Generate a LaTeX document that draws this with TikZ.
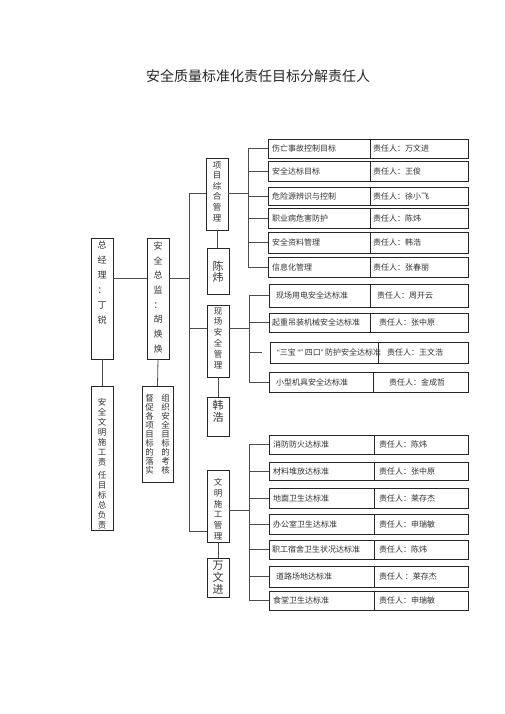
\documentclass[tikz,border=0pt]{standalone}
\usepackage{fontspec}
\setmainfont{Noto Sans CJK SC}
\newfontfamily\latinq{Liberation Sans}
\tikzset{
 box/.style={draw=black!85, line width=0.8pt, inner sep=0pt, outer sep=0pt},
 cell/.style={draw=black!85, line width=0.7pt, inner sep=0pt, outer sep=0pt},
 conn/.style={draw=black!70, line width=0.8pt},
 vtxt/.style={inner sep=0pt, align=center, text=black!80},
 itxt/.style={inner sep=0pt, anchor=west, text=black!80, font=\fontsize{8}{9}\selectfont},
}
% #1 name, #2 yc, #3 h, #4 xl, #5 xd, #6 txl, #7 textl, #8 txr, #9 textr
\newcommand{\itm}[9]{%
 \node[cell, minimum width={(#5-#4)*1pt}, minimum height=#3pt] (#1) at ({(#4+#5)/2},#2) {};
 \node[cell, minimum width={(468-#5)*1pt}, minimum height=#3pt] (#1r) at ({(#5+468)/2},#2) {};
 \node[itxt] (#1t) at (#6,#2) {#7};
 \node[itxt] (#1s) at (#8,#2) {#9};
}
\begin{document}
\begin{tikzpicture}[x=1pt,y=-1pt]
\fill[white] (0,0) rectangle (505,714);
\useasboundingbox (0,0) rectangle (505,714);

\node[inner sep=0pt, text=black!85, font=\fontsize{14}{16}\selectfont] (title) at (258,76) {安全质量标准化责任目标分解责任人};

% left column boxes
\node[box, minimum width=22pt, minimum height=121pt] (zjl) at (102,298.5) {};
\node[vtxt, font=\fontsize{9}{15}\selectfont] (zjlt) at (102,283) {总\\经\\理\\：\\丁\\锐};
\node[box, minimum width=22pt, minimum height=121pt] (zj) at (158,298.5) {};
\node[vtxt, font=\fontsize{9}{14.7}\selectfont] (zjt) at (158,297.5) {安\\全\\总\\监\\：\\胡\\焕\\焕};
\node[box, minimum width=22pt, minimum height=144pt] (fz) at (102,458) {};
\node[vtxt, font=\fontsize{8.5}{10}\selectfont] (fzt) at (102,463.5) {安\\全\\文\\明\\施\\工\\责\\[3pt]任\\目\\标\\总\\负\\责};
\node[box, minimum width=31pt, minimum height=96pt] (dc) at (157.5,434) {};
\node[vtxt, font=\fontsize{8.5}{9}\selectfont] (dct1) at (149.5,434.5) {督\\促\\各\\项\\目\\标\\的\\落\\实};
\node[vtxt, font=\fontsize{8.5}{9}\selectfont] (dct2) at (165.5,434.5) {组\\织\\安\\全\\目\\标\\的\\考\\核};

% group boxes
\node[box, minimum width=22pt, minimum height=72pt] (xm) at (217,194) {};
\node[vtxt, font=\fontsize{8.5}{10.6}\selectfont] (xmt) at (217,191.5) {项\\目\\综\\合\\管\\理};
\node[box, minimum width=22pt, minimum height=46pt] (cw) at (218,271) {};
\node[vtxt, font=\fontsize{11}{11.5}\selectfont] (cwt) at (218,272) {陈\\炜};
\node[box, minimum width=22pt, minimum height=72pt] (xc) at (218,341) {};
\node[vtxt, font=\fontsize{8.5}{10.8}\selectfont] (xct) at (218,338) {现\\场\\安\\全\\管\\理};
\node[box, minimum width=22pt, minimum height=39pt] (hh) at (218,416.5) {};
\node[vtxt, font=\fontsize{11}{12}\selectfont] (hht) at (218,411.5) {韩\\浩};
\node[box, minimum width=22pt, minimum height=72pt] (wm) at (218,506) {};
\node[vtxt, font=\fontsize{8.5}{10.8}\selectfont] (wmt) at (218,509) {文\\明\\施\\工\\管\\理};
\node[box, minimum width=22pt, minimum height=39pt] (wwj) at (218,577.5) {};
\node[vtxt, font=\fontsize{11}{12}\selectfont] (wwjt) at (218,578) {万\\文\\进};

% group 1 items
\itm{g1a}{148.5}{19}{268}{370}{272}{伤亡事故控制目标}{373}{责任人：万文进}
\itm{g1b}{171}{20}{268}{370}{272}{安全达标目标}{373}{责任人：王俊}
\itm{g1c}{196}{18}{268}{370}{272}{危险源辨识与控制}{373}{责任人：徐小飞}
\itm{g1d}{218}{20}{268}{370}{272}{职业病危害防护}{373}{责任人：陈炜}
\itm{g1e}{242.5}{21}{268}{370}{272}{安全资料管理}{373}{责任人：韩浩}
\itm{g1f}{267}{20}{268}{370}{272}{信息化管理}{373}{责任人：张春丽}

% group 2 items
\itm{g2a}{295.5}{23}{269}{370}{276}{现场用电安全达标准}{377}{责任人：周开云}
\itm{g2b}{322.5}{19}{269}{370}{272}{起重吊装机械安全达标准}{379}{责任人：张中原}
\itm{g2c}{352.5}{21}{270}{378}{277}{{\latinq “}三宝 {\latinq “”} 四口{\latinq ”} 防护安全达标准}{387}{责任人：王文浩}
\itm{g2d}{382}{20}{269}{373}{276}{小型机具安全达标准}{389}{责任人：金成哲}

% group 3 items
\itm{g3a}{444.5}{19}{269}{374}{273}{消防防火达标准}{379}{责任人：陈炜}
\itm{g3b}{471}{18}{269}{374}{273}{材料堆放达标准}{379}{责任人：张中原}
\itm{g3c}{498}{20}{269}{374}{273}{地面卫生达标准}{379}{责任人：莱存杰}
\itm{g3d}{524}{20}{269}{374}{273}{办公室卫生达标准}{379}{责任人：申瑞敏}
\itm{g3e}{549.5}{19}{269}{374}{272}{职工宿舍卫生状况达标准}{379}{责任人：陈炜}
\itm{g3f}{576.5}{21}{269}{374}{276}{道路场地达标准}{379}{责任人 ：莱存杰}
\itm{g3g}{600.5}{19}{269}{374}{273}{食堂卫生达标准}{379}{责任人：申瑞敏}

% coordinates
\coordinate (tz) at (189,278);
\coordinate (t1) at (189,193);
\coordinate (t2) at (189,328);
\coordinate (t3) at (189,531);
\coordinate (r3) at (189,510);
\coordinate (B1) at (248,0);
\coordinate (B2) at (249,0);

% connectors
\draw[conn] (tz -| zjl.east) -- (tz -| zj.west);
\draw[conn] (tz -| zj.east) -- (tz);
\draw[conn] (t1) -- (t3);
\draw[conn] (t1) -- (t1 -| xm.west);
\draw[conn] (t2) -- (t2 -| xc.west);
\draw[conn] (t3) -- (t3 -| wm.west);
\draw[conn] (zjl.south) -- (fz.north);
\draw[conn] (zj.south) -- (dc.north);
\draw[conn] (xm.south) -- (xm.south |- cw.north);
\draw[conn] (xc.south) -- (hh.north);
\draw[conn] (wm.south) -- (wwj.north);

% group 1 branch
\draw[conn] (t1 -| xm.east) -- (t1 -| B1);
\draw[conn] (g1a.west -| B1) -- (g1f.west -| B1);
\foreach \n in {a,b,c,d,e,f} \draw[conn] (g1\n.west -| B1) -- (g1\n.west);

% group 2 branch
\draw[conn] (t2 -| xc.east) -- (t2 -| B2);
\draw[conn] (g2a.west -| B2) -- (g2d.west -| B2);
\foreach \n in {a,b,d} \draw[conn] (g2\n.west -| B2) -- (g2\n.west);
\draw[conn] (g2c.west -| B2) -- ([xshift=-8pt]g2c.west);

% group 3 branch
\draw[conn] (r3 -| wm.east) -- (r3 -| B2);
\draw[conn] (g3a.west -| B2) -- (g3g.west -| B2);
\foreach \n in {a,b,c,d,e,f,g} \draw[conn] (g3\n.west -| B2) -- (g3\n.west);
\end{tikzpicture}
\end{document}
